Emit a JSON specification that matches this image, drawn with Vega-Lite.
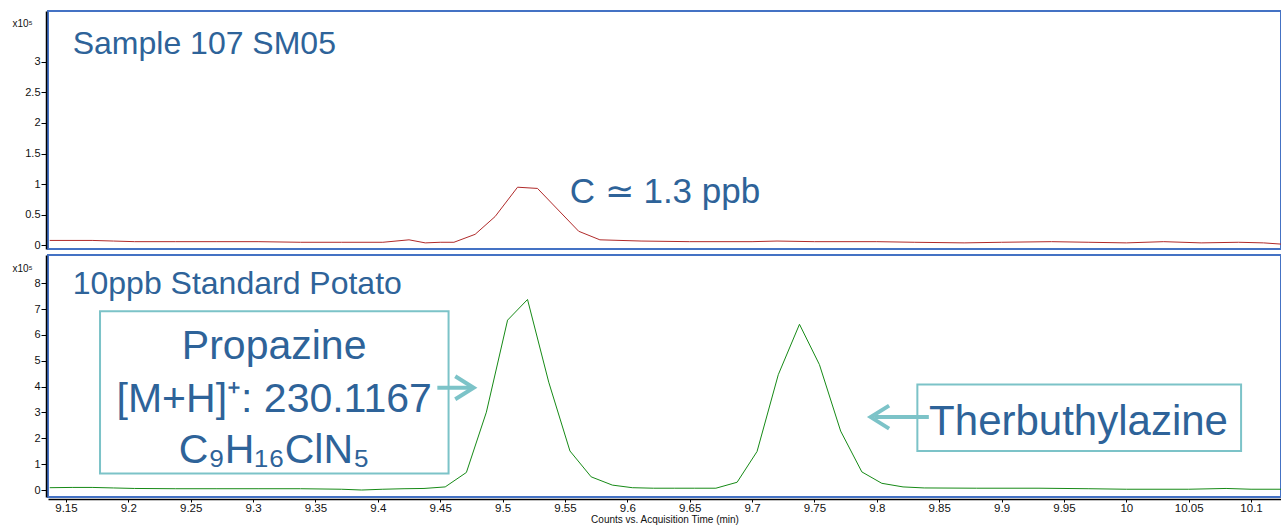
{
  "$schema": "https://vega.github.io/schema/vega-lite/v6.json",
  "background": "white",
  "padding": {"left": 11, "top": 10, "right": 0, "bottom": 0},
  "spacing": 2,
  "config": {
    "view": {"stroke": "#4472c4", "strokeWidth": 2},
    "font": "Liberation Sans",
    "axis": {"grid": false, "domainColor": "#000", "tickColor": "#000", "labelColor": "#111", "labelFont": "Liberation Sans", "titleFont": "Liberation Sans", "titleFontWeight": "normal", "titleColor": "#111", "domainWidth": 1.5}
  },
  "datasets": {
    "sample": [
      {"t": 9.137, "v": 0.08}, {"t": 9.171, "v": 0.08}, {"t": 9.188, "v": 0.07}, {"t": 9.205, "v": 0.06},
      {"t": 9.238, "v": 0.06}, {"t": 9.271, "v": 0.06}, {"t": 9.304, "v": 0.06}, {"t": 9.338, "v": 0.05},
      {"t": 9.371, "v": 0.05}, {"t": 9.404, "v": 0.05}, {"t": 9.425, "v": 0.09}, {"t": 9.438, "v": 0.04},
      {"t": 9.450, "v": 0.05}, {"t": 9.461, "v": 0.05}, {"t": 9.478, "v": 0.18}, {"t": 9.494, "v": 0.47},
      {"t": 9.512, "v": 0.95}, {"t": 9.528, "v": 0.93}, {"t": 9.561, "v": 0.23}, {"t": 9.578, "v": 0.09},
      {"t": 9.611, "v": 0.07}, {"t": 9.650, "v": 0.06}, {"t": 9.700, "v": 0.06}, {"t": 9.720, "v": 0.07},
      {"t": 9.750, "v": 0.06}, {"t": 9.800, "v": 0.06}, {"t": 9.830, "v": 0.05}, {"t": 9.870, "v": 0.04},
      {"t": 9.900, "v": 0.05}, {"t": 9.940, "v": 0.06}, {"t": 9.970, "v": 0.05}, {"t": 10.000, "v": 0.04},
      {"t": 10.030, "v": 0.06}, {"t": 10.060, "v": 0.04}, {"t": 10.090, "v": 0.05}, {"t": 10.110, "v": 0.04},
      {"t": 10.124, "v": 0.02}
    ],
    "standard": [
      {"t": 9.137, "v": 0.09}, {"t": 9.155, "v": 0.10}, {"t": 9.171, "v": 0.10}, {"t": 9.188, "v": 0.08},
      {"t": 9.205, "v": 0.06}, {"t": 9.238, "v": 0.05}, {"t": 9.271, "v": 0.05}, {"t": 9.304, "v": 0.05},
      {"t": 9.338, "v": 0.05}, {"t": 9.371, "v": 0.03}, {"t": 9.387, "v": 0.0}, {"t": 9.404, "v": 0.03},
      {"t": 9.421, "v": 0.05}, {"t": 9.437, "v": 0.06}, {"t": 9.454, "v": 0.12}, {"t": 9.471, "v": 0.68},
      {"t": 9.487, "v": 3.01}, {"t": 9.504, "v": 6.57}, {"t": 9.520, "v": 7.37}, {"t": 9.537, "v": 4.17},
      {"t": 9.554, "v": 1.51}, {"t": 9.571, "v": 0.51}, {"t": 9.588, "v": 0.19}, {"t": 9.604, "v": 0.09},
      {"t": 9.621, "v": 0.07}, {"t": 9.638, "v": 0.07}, {"t": 9.654, "v": 0.07}, {"t": 9.671, "v": 0.07},
      {"t": 9.688, "v": 0.30}, {"t": 9.704, "v": 1.49}, {"t": 9.721, "v": 4.46}, {"t": 9.738, "v": 6.41},
      {"t": 9.754, "v": 4.85}, {"t": 9.771, "v": 2.28}, {"t": 9.788, "v": 0.70}, {"t": 9.804, "v": 0.26},
      {"t": 9.821, "v": 0.12}, {"t": 9.838, "v": 0.08}, {"t": 9.880, "v": 0.07}, {"t": 9.930, "v": 0.07},
      {"t": 9.970, "v": 0.05}, {"t": 10.000, "v": 0.03}, {"t": 10.050, "v": 0.03}, {"t": 10.080, "v": 0.06},
      {"t": 10.100, "v": 0.03}, {"t": 10.124, "v": 0.03}
    ]
  },
  "vconcat": [
    {
      "width": 1233,
      "height": 238,
      "encoding": {
        "x": {"field": "t", "type": "quantitative", "scale": {"domain": [9.1356, 10.124], "nice": false, "zero": false}, "axis": null},
        "y": {"field": "v", "type": "quantitative", "scale": {"domain": [-0.06, 3.83], "nice": false, "zero": false},
          "axis": {"values": [0, 0.5, 1, 1.5, 2, 2.5, 3], "format": "~g", "labelFontSize": 11, "tickSize": 5, "offset": 2, "labelPadding": 1,
            "title": "x10⁵", "titleAngle": 0, "titleX": -34, "titleY": 15, "titleAlign": "left", "titleBaseline": "alphabetic", "titleFontSize": 10}}
      },
      "layer": [
        {"data": {"name": "sample"}, "mark": {"type": "line", "color": "#b02a2a", "strokeWidth": 1, "clip": true}},
        {"data": {"values": [{"t": 9.1554, "v": 3.126, "label": "Sample 107 SM05"}]},
          "mark": {"type": "text", "align": "left", "baseline": "alphabetic", "fontSize": 32, "color": "#2e6399"},
          "encoding": {"text": {"field": "label"}}},
        {"data": {"values": [{"t": 9.5538, "v": 0.686, "label": "C ≃ 1.3 ppb"}]},
          "mark": {"type": "text", "align": "left", "baseline": "alphabetic", "fontSize": 35, "color": "#2e6399"},
          "encoding": {"text": {"field": "label"}}}
      ]
    },
    {
      "width": 1233,
      "height": 242,
      "encoding": {
        "x": {"field": "t", "type": "quantitative", "scale": {"domain": [9.1356, 10.124], "nice": false, "zero": false},
          "axis": {"values": [9.15, 9.2, 9.25, 9.3, 9.35, 9.4, 9.45, 9.5, 9.55, 9.6, 9.65, 9.7, 9.75, 9.8, 9.85, 9.9, 9.95, 10, 10.05, 10.1],
            "format": "~g", "labelFontSize": 11.5, "tickSize": 3, "offset": 2, "labelPadding": 0, "labelFlush": false, "labelOverlap": false,
            "title": "Counts vs. Acquisition Time (min)", "titleFontSize": 10, "titlePadding": 1}},
        "y": {"field": "v", "type": "quantitative", "scale": {"domain": [-0.27, 9.09], "nice": false, "zero": false},
          "axis": {"values": [0, 1, 2, 3, 4, 5, 6, 7, 8], "format": "~g", "labelFontSize": 11, "tickSize": 5, "offset": 2, "labelPadding": 1,
            "title": "x10⁵", "titleAngle": 0, "titleX": -34, "titleY": 16, "titleAlign": "left", "titleBaseline": "alphabetic", "titleFontSize": 10}}
      },
      "layer": [
        {"data": {"name": "standard"}, "mark": {"type": "line", "color": "#168a16", "strokeWidth": 1, "clip": true}},
        {"data": {"values": [{"t": 9.1773, "t2": 9.4567, "v": 6.91, "v2": 0.64}, {"t": 9.8325, "t2": 10.092, "v": 4.08, "v2": 1.51}]},
          "mark": {"type": "rect", "fill": "white", "fillOpacity": 0, "stroke": "#7cc3c8", "strokeWidth": 2},
          "encoding": {"x2": {"field": "t2"}, "y2": {"field": "v2"}}},
        {"data": {"values": [{"t": 9.4477, "t2": 9.474, "v": 3.956}, {"t": 9.798, "t2": 9.8417, "v": 2.82}]},
          "mark": {"type": "rule", "color": "#7cc3c8", "strokeWidth": 4},
          "encoding": {"x2": {"field": "t2"}}},
        {"data": {"values": [{"t": 9.4768, "v": 3.956}]},
          "mark": {"type": "point", "shape": "M-1.6,-1L0,0L-1.6,1", "size": 529, "filled": false, "stroke": "#7cc3c8", "strokeWidth": 4, "opacity": 1}},
        {"data": {"values": [{"t": 9.7951, "v": 2.82}]},
          "mark": {"type": "point", "shape": "M1.6,-1L0,0L1.6,1", "size": 529, "filled": false, "stroke": "#7cc3c8", "strokeWidth": 4, "opacity": 1}},
        {"data": {"values": [
            {"t": 9.3169, "v": 5.08, "label": "Propazine"},
            {"t": 9.3169, "v": 3.02, "label": "[M+H]⁺: 230.1167"},
            {"t": 9.3169, "v": 1.04, "label": "C₉H₁₆ClN₅"}]},
          "mark": {"type": "text", "align": "center", "baseline": "alphabetic", "fontSize": 41, "color": "#2e6399"},
          "encoding": {"text": {"field": "label"}}},
        {"data": {"values": [{"t": 9.9617, "v": 2.12, "label": "Therbuthylazine"}]},
          "mark": {"type": "text", "align": "center", "baseline": "alphabetic", "fontSize": 42, "color": "#2e6399"},
          "encoding": {"text": {"field": "label"}}},
        {"data": {"values": [{"t": 9.1554, "v": 7.58, "label": "10ppb Standard Potato"}]},
          "mark": {"type": "text", "align": "left", "baseline": "alphabetic", "fontSize": 32, "color": "#2e6399"},
          "encoding": {"text": {"field": "label"}}}
      ]
    }
  ]
}
